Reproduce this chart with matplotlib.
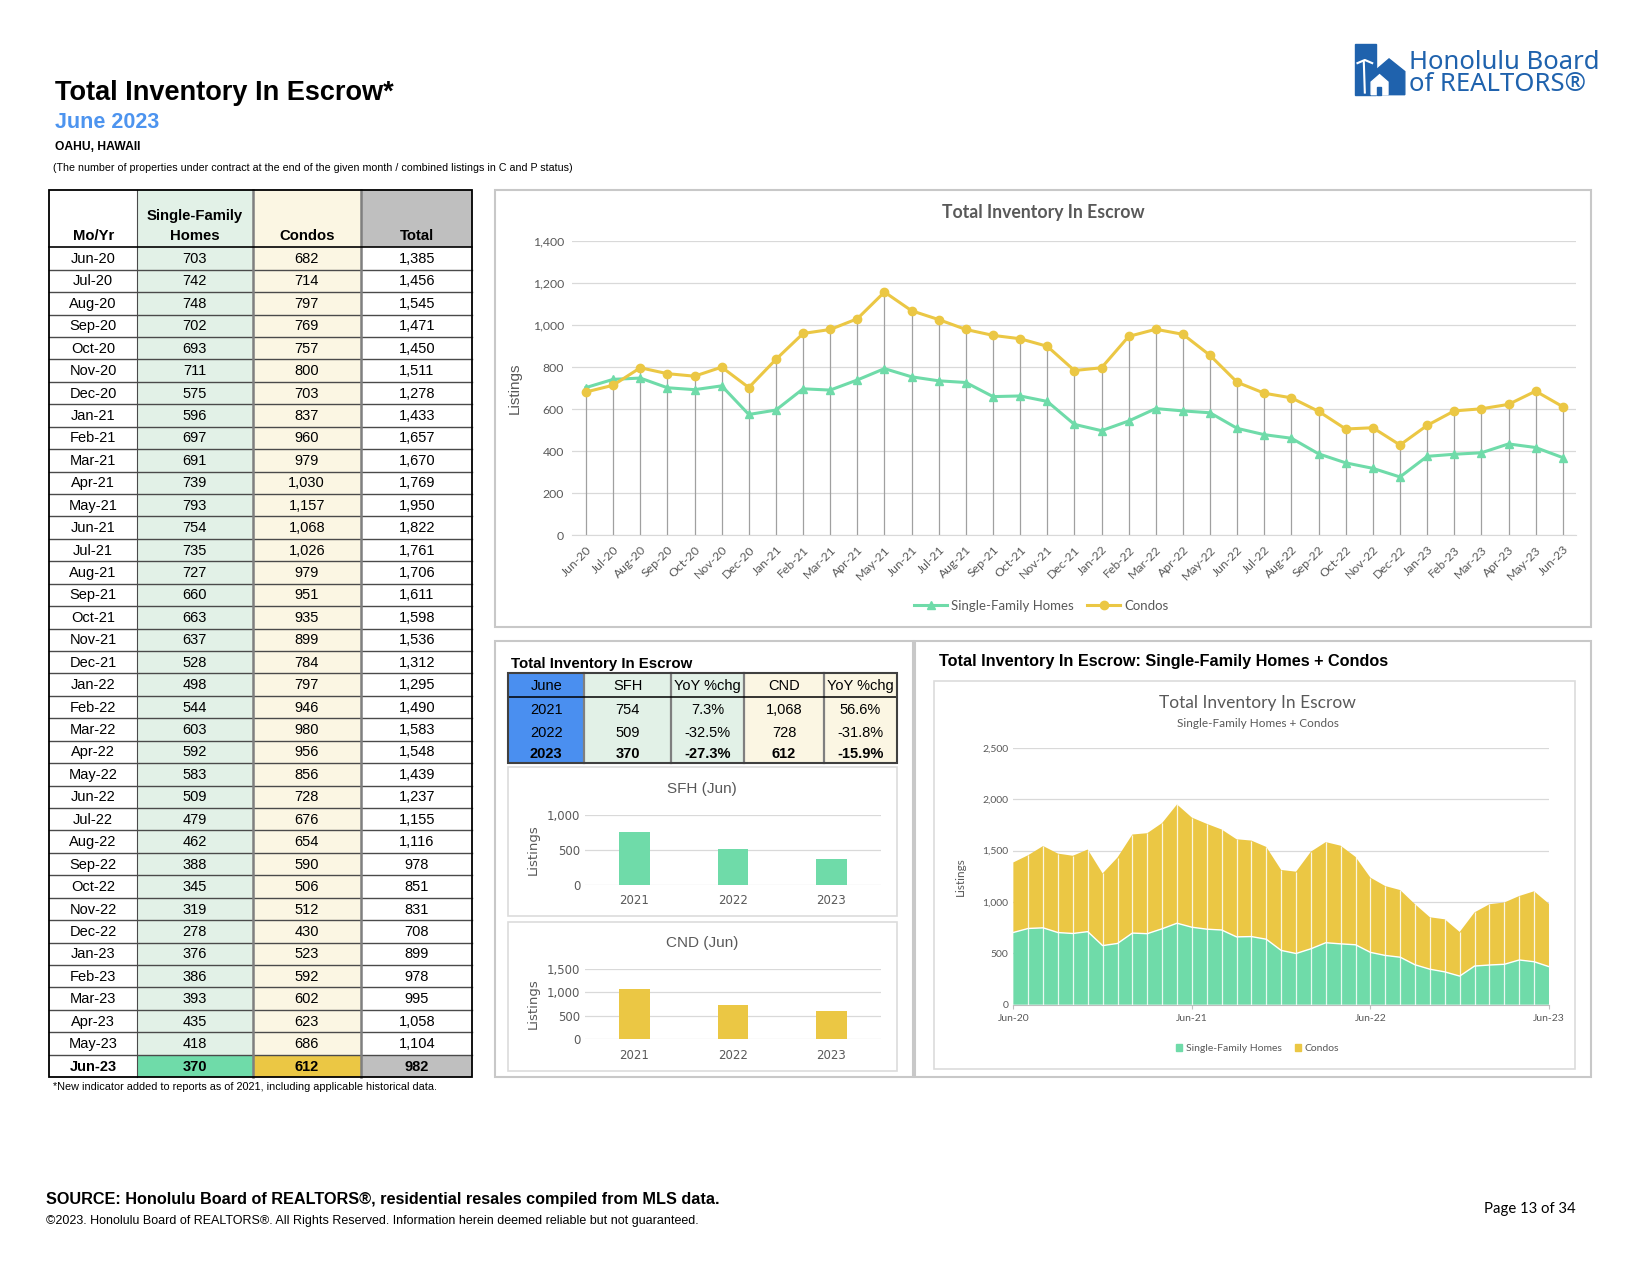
import matplotlib
matplotlib.use("Agg")
import matplotlib.pyplot as plt
from matplotlib.patches import Rectangle, Polygon

months = ["Jun-20", "Jul-20", "Aug-20", "Sep-20", "Oct-20", "Nov-20", "Dec-20",
          "Jan-21", "Feb-21", "Mar-21", "Apr-21", "May-21", "Jun-21", "Jul-21",
          "Aug-21", "Sep-21", "Oct-21", "Nov-21", "Dec-21", "Jan-22", "Feb-22",
          "Mar-22", "Apr-22", "May-22", "Jun-22", "Jul-22", "Aug-22", "Sep-22",
          "Oct-22", "Nov-22", "Dec-22", "Jan-23", "Feb-23", "Mar-23", "Apr-23",
          "May-23", "Jun-23"]
sfh = [703, 742, 748, 702, 693, 711, 575, 596, 697, 691, 739, 793, 754, 735,
       727, 660, 663, 637, 528, 498, 544, 603, 592, 583, 509, 479, 462, 388,
       345, 319, 278, 376, 386, 393, 435, 418, 370]
condos = [682, 714, 797, 769, 757, 800, 703, 837, 960, 979, 1030, 1157, 1068,
          1026, 979, 951, 935, 899, 784, 797, 946, 980, 956, 856, 728, 676, 654,
          590, 506, 512, 430, 523, 592, 602, 623, 686, 612]
total = [s + c for s, c in zip(sfh, condos)]

jun_years = ["2021", "2022", "2023"]
jun_sfh = [754, 509, 370]
jun_sfh_yoy = ["7.3%", "-32.5%", "-27.3%"]
jun_cnd = [1068, 728, 612]
jun_cnd_yoy = ["56.6%", "-31.8%", "-15.9%"]

area_ticks = ["Jun-20", "Jun-21", "Jun-22", "Jun-23"]

GREEN = "#6fdba9"
YELLOW = "#ebc744"
LT_GREEN = "#e2f1e7"
CREAM = "#fbf6e3"
GRAY = "#bfbfbf"
BLUE = "#4a8ff0"
TXT = "#595959"
ARIAL = "Liberation Sans"
CALI = "Lato"

# page is laid out in pixel units of a 1568 x 1212 sheet
W, H = 1568, 1212
fig = plt.figure(figsize=(16.5, 12.75), dpi=100)
fig.patch.set_facecolor("white")
bg = fig.add_axes([0, 0, 1, 1])
bg.set_xlim(0, W)
bg.set_ylim(H, 0)
bg.axis("off")


def frac(x0, y0, x1, y1):
    return [x0 / W, 1 - y1 / H, (x1 - x0) / W, (y1 - y0) / H]


def rect(x0, y0, x1, y1, fc="none", ec="none", lw=1.0, z=1):
    bg.add_patch(Rectangle((x0, y0), x1 - x0, y1 - y0, facecolor=fc,
                           edgecolor=ec, linewidth=lw, zorder=z))


def t(x, y, s, size=10, bold=False, color="black", ha="left", va="center", family=ARIAL):
    bg.text(x, y, s, fontsize=size, fontweight="bold" if bold else "normal",
            color=color, ha=ha, va=va, family=family, zorder=5)


# header
t(52, 88, "Total Inventory In Escrow*", 19.5, True)
t(52, 116, "June 2023", 15.5, True, color="#4d94ef")
t(52, 140, "OAHU, HAWAII", 8.7, True)
t(50, 160, "(The number of properties under contract at the end of the given month / combined listings in C and P status)", 7.7)

# logo
LOGO = "#1f62ad"
bg.add_patch(Polygon([(1288, 42), (1308, 42), (1308, 90), (1288, 90)], color=LOGO, zorder=2))
bg.add_patch(Polygon([(1306, 90), (1306, 68), (1320, 56), (1335, 68), (1335, 90)], color=LOGO, zorder=2))
bg.add_patch(Polygon([(1303, 90), (1303, 78), (1311, 71), (1319, 78), (1319, 90)], color="white", zorder=3))
bg.add_patch(Rectangle((1309, 83), 3, 7, color=LOGO, zorder=4))
bg.plot([1296, 1297], [58, 88], color="white", lw=1.5, zorder=3)
bg.plot([1290, 1297, 1304], [60, 57, 60], color="white", lw=1.5, zorder=3)
t(1339, 59, "Honolulu Board", 18.5, color=LOGO, family="Noto Sans")
t(1339, 80, "of REALTORS\u00ae", 18.5, color=LOGO, family="Noto Sans")

# main monthly table
cols = [47, 130, 240, 343, 449]
top, head_bot, bot = 181, 235, 1024
row_h = (bot - head_bot) / len(months)
rect(cols[1], top, cols[2], bot, fc=LT_GREEN)
rect(cols[2], top, cols[3], bot, fc=CREAM)
rect(cols[3], top, cols[4], head_bot, fc=GRAY)
last = head_bot + (len(months) - 1) * row_h
rect(cols[1], last, cols[2], bot, fc=GREEN)
rect(cols[2], last, cols[3], bot, fc=YELLOW)
rect(cols[3], last, cols[4], bot, fc=GRAY)

t((cols[0] + cols[1]) / 2, 224, "Mo/Yr", 10.7, True, ha="center")
t((cols[1] + cols[2]) / 2, 205, "Single-Family", 10.7, True, ha="center")
t((cols[1] + cols[2]) / 2, 224, "Homes", 10.7, True, ha="center")
t((cols[2] + cols[3]) / 2, 224, "Condos", 10.7, True, ha="center")
t((cols[3] + cols[4]) / 2, 224, "Total", 10.7, True, ha="center")

for i, m in enumerate(months):
    yc = head_bot + (i + 0.5) * row_h + 0.5
    b = i == len(months) - 1
    vals = [m, f"{sfh[i]:,}", f"{condos[i]:,}", f"{total[i]:,}"]
    for j, v in enumerate(vals):
        t((cols[j] + cols[j + 1]) / 2, yc, v, 10.5, b, ha="center")
    if i > 0:
        y = head_bot + i * row_h
        bg.plot([cols[0], cols[4]], [y, y], color="#4a4a4a", lw=1.0, zorder=3)

bg.plot([cols[1], cols[1]], [top, bot], color="#4a4a4a", lw=0.8, zorder=3)
for xx in cols[2:4]:
    bg.plot([xx, xx], [top, bot], color="#7f7f7f", lw=1.8, zorder=3)
bg.plot([cols[0], cols[4]], [head_bot, head_bot], color="black", lw=1.2, zorder=4)
rect(cols[0], top, cols[4], bot, ec="black", lw=1.3, z=4)
t(50, 1033, "*New indicator added to reports as of 2021, including applicable historical data.", 7.8)

# panel frames
rect(470, 181, 1512, 596, ec="#c8c8c8", lw=1.5)
rect(470, 609, 868, 1024, ec="#c8c8c8", lw=1.5)
rect(870, 609, 1512, 1024, ec="#c8c8c8", lw=1.5)
rect(483, 729, 852, 871, ec="#dcdcdc", lw=1.2)
rect(483, 876, 852, 1018, ec="#dcdcdc", lw=1.2)
rect(888, 647, 1497, 1016, ec="#dcdcdc", lw=1.2)

# line chart
t(991, 202, "Total Inventory In Escrow", 12.7, True, color=TXT, ha="center", family=CALI)
ax = fig.add_axes(frac(544, 229, 1498, 509))
x = list(range(len(months)))
ax.vlines(x, 0, [max(a, b) for a, b in zip(sfh, condos)], color="#a0a0a0", lw=0.9, zorder=1)
ax.plot(x, sfh, color=GREEN, lw=2.2, marker="^", ms=6, label="Single-Family Homes", zorder=3)
ax.plot(x, condos, color=YELLOW, lw=2.2, marker="o", ms=6, label="Condos", zorder=3)
ax.set_xlim(-0.5, len(months) - 0.5)
ax.set_ylim(0, 1400)
ax.set_yticks(range(0, 1401, 200))
ax.set_yticklabels([f"{v:,}" for v in range(0, 1401, 200)])
ax.set_xticks(x)
ax.set_xticklabels(months, rotation=45, ha="right", rotation_mode="anchor")
ax.grid(axis="y", color="#d9d9d9", lw=0.9)
ax.set_axisbelow(True)
for s in ["top", "right", "left"]:
    ax.spines[s].set_visible(False)
ax.spines["bottom"].set_color("#d9d9d9")
ax.tick_params(length=0, labelsize=8.8, colors=TXT, pad=6)
for lab in ax.get_xticklabels() + ax.get_yticklabels():
    lab.set_family(CALI)
ax.set_ylabel("Listings", fontsize=11, color=TXT, family=ARIAL, labelpad=8)
ax.legend(loc="center", bbox_to_anchor=(0.467, -0.239), ncol=2, frameon=False,
          prop={"family": CALI, "size": 9.5}, labelcolor=TXT, handlelength=2.5,
          columnspacing=1.0, handletextpad=0.3)

# June summary table
t(486, 631, "Total Inventory In Escrow", 10.8, True)
sc = [483, 555, 638, 707, 783, 852]
sr = [640, 663, 685, 706, 725]
rect(sc[0], sr[0], sc[1], sr[-1], fc=BLUE)
rect(sc[1], sr[0], sc[3], sr[-1], fc=LT_GREEN)
rect(sc[3], sr[0], sc[5], sr[-1], fc=CREAM)
heads = ["June", "SFH", "YoY %chg", "CND", "YoY %chg"]
for j, h in enumerate(heads):
    t((sc[j] + sc[j + 1]) / 2, (sr[0] + sr[1]) / 2 + 1, h, 10.5, ha="center")
for i, yr in enumerate(jun_years):
    b = i == len(jun_years) - 1
    vals = [yr, f"{jun_sfh[i]:,}", jun_sfh_yoy[i], f"{jun_cnd[i]:,}", jun_cnd_yoy[i]]
    for j, v in enumerate(vals):
        t((sc[j] + sc[j + 1]) / 2, (sr[i + 1] + sr[i + 2]) / 2 + 1, v, 10.5, b, ha="center")
for xx in sc[1:-1]:
    bg.plot([xx, xx], [sr[0], sr[-1]], color="#7f7f7f", lw=1.6, zorder=3)
bg.plot([sc[0], sc[-1]], [sr[1], sr[1]], color="black", lw=1.1, zorder=4)
rect(sc[0], sr[0], sc[-1], sr[-1], ec="#404040", lw=1.5, z=4)


# small June bar charts
def june_bars(box, vals, color, ymax, step, title, ty):
    t(667, ty, title, 11, color=TXT, ha="center")
    a = fig.add_axes(frac(*box))
    a.bar(range(len(jun_years)), vals, width=0.31, color=color, zorder=2)
    a.set_xlim(-0.5, len(jun_years) - 0.5)
    a.set_ylim(0, ymax)
    a.set_yticks(range(0, ymax + 1, step))
    a.set_yticklabels([f"{v:,}" for v in range(0, ymax + 1, step)])
    a.set_xticks(range(len(jun_years)))
    a.set_xticklabels(jun_years)
    a.grid(axis="y", color="#d9d9d9", lw=0.9)
    a.set_axisbelow(True)
    for s in a.spines.values():
        s.set_visible(False)
    a.tick_params(length=0, labelsize=8.5, colors=TXT)
    a.tick_params(axis="x", pad=7)
    a.set_ylabel("Listings", fontsize=9.5, color=TXT, labelpad=5)


june_bars((556, 775, 837, 841), jun_sfh, GREEN, 1000, 500, "SFH (Jun)", 750)
june_bars((556, 921, 837, 988), jun_cnd, YELLOW, 1500, 500, "CND (Jun)", 896)

# stacked area chart
t(892, 629, "Total Inventory In Escrow: Single-Family Homes + Condos", 11.7, True)
t(1195, 668, "Total Inventory In Escrow", 12.5, color=TXT, ha="center", family=CALI)
t(1195, 688, "Single-Family Homes + Condos", 8.5, color=TXT, ha="center", family=CALI)
ax2 = fig.add_axes(frac(963, 711, 1472, 955))
ax2.stackplot(x, sfh, condos, colors=[GREEN, YELLOW], lw=0, zorder=2)
ax2.vlines(x[1:-1], 0, total[1:-1], color="white", lw=0.9, alpha=0.85, zorder=3)
ax2.plot(x, sfh, color="white", lw=1.0, zorder=3)
ax2.set_xlim(0, len(months) - 1)
ax2.set_ylim(0, 2500)
ax2.set_yticks(range(0, 2501, 500))
ax2.set_yticklabels([f"{v:,}" for v in range(0, 2501, 500)])
ax2.set_xticks([0, 12, 24, 36])
ax2.set_xticklabels(area_ticks)
ax2.grid(axis="y", color="#d9d9d9", lw=0.9)
ax2.set_axisbelow(True)
for s in ["top", "right", "left"]:
    ax2.spines[s].set_visible(False)
ax2.spines["bottom"].set_color("#bfbfbf")
ax2.tick_params(axis="y", length=0, labelsize=7.5, colors=TXT)
ax2.tick_params(axis="x", length=3, color="#bfbfbf", labelsize=7.5, colors=TXT)
for lab in ax2.get_xticklabels() + ax2.get_yticklabels():
    lab.set_family(CALI)
ax2.set_ylabel("Listings", fontsize=8.5, color=TXT, family=CALI, labelpad=12)
handles = [Rectangle((0, 0), 1, 1, color=GREEN), Rectangle((0, 0), 1, 1, color=YELLOW)]
ax2.legend(handles, ["Single-Family Homes", "Condos"], loc="center",
           bbox_to_anchor=(0.456, -0.172), ncol=2, frameon=False,
           prop={"family": CALI, "size": 7.5}, labelcolor=TXT, handlelength=0.6,
           handleheight=0.6, columnspacing=1.2, handletextpad=0.4)

# footer
t(44, 1140, "SOURCE: Honolulu Board of REALTORS\u00ae, residential resales compiled from MLS data.", 11.7, True)
t(44, 1161, "\u00a92023. Honolulu Board of REALTORS\u00ae. All Rights Reserved. Information herein deemed reliable but not guaranteed.", 9)
t(1497, 1149, "Page 13 of 34", 10.7, ha="right", family=CALI)

fig.savefig("out.png", dpi=100)
